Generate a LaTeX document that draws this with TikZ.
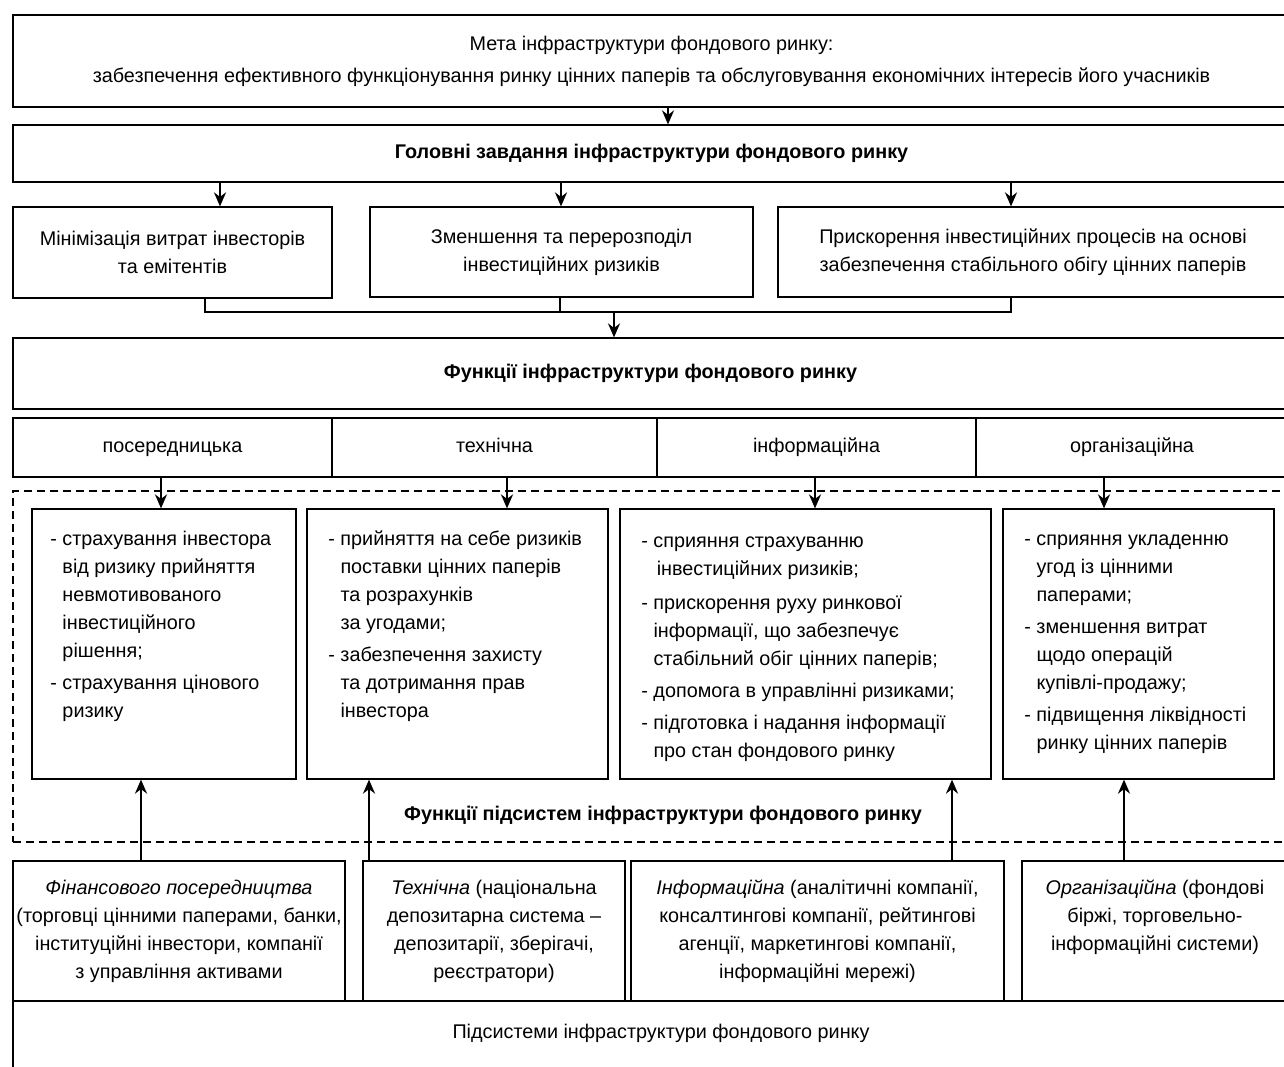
\documentclass[tikz,border=0pt]{standalone}
\usepackage{fontspec}
\setmainfont{Liberation Sans}
\usetikzlibrary{arrows.meta,positioning}
\newcommand{\ldash}{\vphantom{Й}-\ }
\newcommand{\lcont}{\hphantom{-\ }}
\begin{document}
\begin{tikzpicture}[x=0.5pt,y=-0.5pt,
    box/.style={draw,line width=0.6pt,inner sep=0pt},
    wh/.style 2 args={minimum width=#1*0.5pt,minimum height=#2*0.5pt},
    txt/.style={inner sep=0pt,align=center,font=\fontsize{9.9}{14}\selectfont},
    bld/.style={txt,font=\fontsize{9.9}{14}\selectfont\bfseries},
    cell/.style={box,txt,text height=7pt,text depth=2pt},
    lst/.style={inner sep=0pt,align=left,anchor=north west,font=\fontsize{9.9}{14}\selectfont},
    arr/.style={line width=1.1pt,-{Stealth[length=7pt,width=6pt]}}]
  \clip (0,0) rectangle (1284,1066);
  \node[box,txt,wh={1277}{92}] (goal) at (651.5,61) {Мета інфраструктури фондового ринку:\\[2pt]
    забезпечення ефективного функціонування ринку цінних паперів та обслуговування економічних інтересів його учасників};
  \node[box,bld,wh={1277}{57}] (tasks) at (651.5,153.5) {Головні завдання інфраструктури фондового ринку};
  \draw[arr] (goal.south -| 668,0) -- (tasks.north -| 668,0);
  \node[box,txt,wh={319}{91}] (tA) at (172.5,252.5) {Мінімізація витрат інвесторів\\ та емітентів};
  \node[box,txt,wh={383}{90}] (tB) at (561.5,252) {Зменшення та перерозподіл\\ інвестиційних ризиків};
  \node[box,txt,wh={510}{90}] (tC) at (1033,252) {Прискорення інвестиційних процесів на основі\\
    забезпечення стабільного обігу цінних паперів};
  \foreach \x/\t in {220/tA,561/tB,1011/tC}
    \draw[arr] (tasks.south -| \x,0) -- (\t.north -| \x,0);
  \node[box,bld,wh={1275}{71}] (funcs) at (650.5,373.5) {Функції інфраструктури фондового ринку};
  \coordinate (bus) at (614,312);
  \draw[line width=0.6pt] (tA.south -| 205,0) |- (bus) -| (tC.south -| 1011,0);
  \draw[line width=0.6pt] (tB.south -| 560,0) -- (bus -| 560,0);
  \draw[arr] (bus) -- (funcs.north -| bus);
  \node[cell,wh={319}{59}] (c1) at (172.5,447.5) {посередницька};
  \node[cell,wh={325}{59}] (c2) at (494.5,447.5) {технічна};
  \node[cell,wh={319}{59}] (c3) at (816.5,447.5) {інформаційна};
  \node[cell,wh={312}{59}] (c4) at (1132,447.5) {організаційна};
  \node[box,dash pattern=on 4pt off 2.5pt,wh={1290}{351}] (subfun) at (658,666.5) {};
  \node[box,wh={264}{270}] (d1) at (164,644) {};
  \node[box,wh={301}{270}] (d2) at (457.5,644) {};
  \node[box,wh={371}{270}] (d3) at (805.5,644) {};
  \node[box,wh={271}{270}] (d4) at (1138.5,644) {};
  \foreach \x/\c/\d in {161/c1/d1,507/c2/d2,815/c3/d3,1104/c4/d4}
    \draw[arr] (\c.south -| \x,0) -- (\d.north -| \x,0);
  \node[lst] (l1) at (50,527) {\ldash страхування інвестора\\ \lcont від ризику прийняття\\
    \lcont невмотивованого\\ \lcont інвестиційного\\ \lcont рішення;\\[2pt]
    \ldash страхування цінового\\ \lcont ризику};
  \node[lst] (l2) at (328,527) {\ldash прийняття на себе ризиків\\ \lcont поставки цінних паперів\\
    \lcont та розрахунків\\ \lcont за угодами;\\[2pt]
    \ldash забезпечення захисту\\ \lcont та дотримання прав\\ \lcont інвестора};
  \node[lst] (l3) at (641,529) {\ldash сприяння страхуванню\\ \lcont\,інвестиційних ризиків;\\[3pt]
    \ldash прискорення руху ринкової\\ \lcont інформації, що забезпечує\\ \lcont стабільний обіг цінних паперів;\\[2pt]
    \ldash допомога в управлінні ризиками;\\[2pt]
    \ldash підготовка і надання інформації\\ \lcont про стан фондового ринку};
  \node[lst] (l4) at (1024,527) {\ldash сприяння укладенню\\ \lcont угод із цінними\\ \lcont паперами;\\[2pt]
    \ldash зменшення витрат\\ \lcont щодо операцій\\ \lcont купівлі-продажу;\\[2pt]
    \ldash підвищення ліквідності\\ \lcont ринку цінних паперів};
  \node[bld] (subfunT) at (663,815) {Функції підсистем інфраструктури фондового ринку};
  \node[box,wh={332}{140}] (s1) at (179,931) {};
  \node[box,wh={262}{140}] (s2) at (494,931) {};
  \node[box,wh={373}{140}] (s3) at (817.5,931) {};
  \node[box,wh={266}{140}] (s4) at (1155,931) {};
  \node[txt,anchor=north,below=9.5pt of s1.north] (s1T) {\textit{Фінансового посередництва}\\
    (торговці цінними паперами, банки,\\ інституційні інвестори, компанії\\ з управління активами};
  \node[txt,anchor=north,below=9.5pt of s2.north] (s2T) {\textit{Технічна} (національна\\
    депозитарна система –\\ депозитарії, зберігачі,\\ реєстратори)};
  \node[txt,anchor=north,below=9.5pt of s3.north] (s3T) {\textit{Інформаційна} (аналітичні компанії,\\
    консалтингові компанії, рейтингові\\ агенції, маркетингові компанії,\\ інформаційні мережі)};
  \node[txt,anchor=north,below=9.5pt of s4.north] (s4T) {\textit{Організаційна} (фондові\\
    біржі, торговельно-\\ інформаційні системи)};
  \foreach \x/\s/\d in {141/s1/d1,369/s2/d2,952/s3/d3,1124/s4/d4}
    \draw[arr] (\s.north -| \x,0) -- (\d.south -| \x,0);
  \node[box,wh={1290}{120}] (subsys) at (658,1061) {};
  \node[txt] (subsysT) at (661,1033) {Підсистеми інфраструктури фондового ринку};
\end{tikzpicture}
\end{document}
